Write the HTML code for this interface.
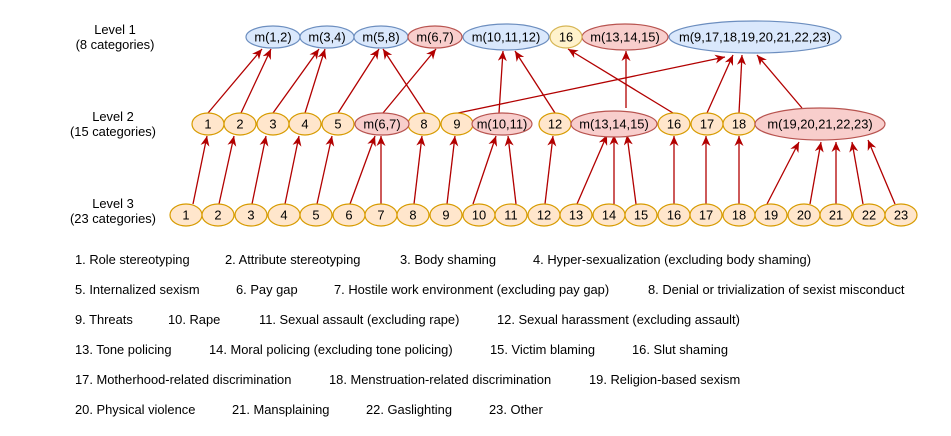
<!DOCTYPE html>
<html><head><meta charset="utf-8"><style>
html,body{margin:0;padding:0;background:#fff;}
svg{display:block;font-family:"Liberation Sans",Arial,sans-serif;}
</style></head><body>
<svg width="951" height="436" viewBox="0 0 951 436" xmlns="http://www.w3.org/2000/svg">
<defs>
<marker id="a" markerUnits="userSpaceOnUse" markerWidth="11" markerHeight="9" refX="10" refY="4.5" orient="auto">
<path d="M0,0 L10,4.5 L0,9 L3,4.5 z" fill="#b20000"/>
</marker>
</defs>
<g font-size="12.9" fill="#000" text-anchor="middle">
<text x="115" y="34">Level 1</text><text x="115" y="49">(8 categories)</text>
<text x="113" y="121">Level 2</text><text x="113" y="136">(15 categories)</text>
<text x="113" y="208">Level 3</text><text x="113" y="223">(23 categories)</text>
</g>
<g stroke="#b20000" stroke-width="1.3" fill="none" marker-end="url(#a)">
<line x1="193" y1="204" x2="207" y2="136"/>
<line x1="219" y1="204" x2="234" y2="136"/>
<line x1="252" y1="204" x2="266" y2="136"/>
<line x1="285" y1="204" x2="299" y2="136"/>
<line x1="317" y1="204" x2="332" y2="136"/>
<line x1="350" y1="204" x2="375" y2="136"/>
<line x1="381" y1="204" x2="381" y2="136"/>
<line x1="414" y1="204" x2="422" y2="136"/>
<line x1="447" y1="204" x2="455" y2="136"/>
<line x1="473" y1="204" x2="496" y2="136"/>
<line x1="516" y1="204" x2="508" y2="136"/>
<line x1="545" y1="204" x2="553" y2="136"/>
<line x1="577" y1="204" x2="607" y2="135"/>
<line x1="614" y1="204" x2="614" y2="135"/>
<line x1="636" y1="204" x2="627" y2="135"/>
<line x1="674" y1="204" x2="674" y2="136"/>
<line x1="706" y1="204" x2="706" y2="136"/>
<line x1="739" y1="204" x2="739" y2="136"/>
<line x1="767" y1="204" x2="799" y2="142"/>
<line x1="810" y1="204" x2="821" y2="142"/>
<line x1="836" y1="204" x2="836" y2="142"/>
<line x1="863" y1="204" x2="852" y2="142"/>
<line x1="895" y1="204" x2="868" y2="140"/>
<line x1="208" y1="113" x2="262" y2="49"/>
<line x1="241" y1="113" x2="271" y2="49"/>
<line x1="273" y1="113" x2="319" y2="49"/>
<line x1="305" y1="113" x2="325" y2="49"/>
<line x1="338" y1="113" x2="379" y2="49"/>
<line x1="425" y1="113" x2="383" y2="49"/>
<line x1="383" y1="113" x2="436" y2="49"/>
<line x1="499" y1="113" x2="503" y2="51"/>
<line x1="555" y1="113" x2="515" y2="51"/>
<line x1="458" y1="113" x2="725" y2="57"/>
<line x1="673" y1="113" x2="568" y2="49"/>
<line x1="626" y1="108" x2="626" y2="51"/>
<line x1="707" y1="113" x2="733" y2="55"/>
<line x1="739" y1="113" x2="742" y2="55"/>
<line x1="802" y1="108" x2="757" y2="55"/>
</g>
<g stroke-width="1.2" font-size="12.9" text-anchor="middle">
<g fill="#dae8fc" stroke="#6c8ebf">
<ellipse cx="273" cy="37" rx="27" ry="11"/>
<ellipse cx="327" cy="37" rx="27" ry="11"/>
<ellipse cx="381" cy="37" rx="27" ry="11"/>
<ellipse cx="506" cy="37" rx="43" ry="13"/>
<ellipse cx="755" cy="37" rx="86" ry="16"/>
</g>
<g fill="#f8cecc" stroke="#b85450">
<ellipse cx="435" cy="37" rx="27" ry="11"/>
<ellipse cx="625" cy="37" rx="43" ry="13"/>
</g>
<ellipse cx="566" cy="37" rx="16" ry="11" fill="#fff2cc" stroke="#d6b656"/>
<g fill="#000" stroke="none">
<text x="273" y="41.5">m(1,2)</text><text x="327" y="41.5">m(3,4)</text><text x="381" y="41.5">m(5,8)</text>
<text x="435" y="41.5">m(6,7)</text><text x="506" y="41.5">m(10,11,12)</text><text x="566" y="41.5">16</text>
<text x="625" y="41.5">m(13,14,15)</text><text x="755" y="41.5">m(9,17,18,19,20,21,22,23)</text>
</g>
<g fill="#ffe6cc" stroke="#d79b00">
<ellipse cx="208" cy="124" rx="16" ry="11"/>
<ellipse cx="240" cy="124" rx="16" ry="11"/>
<ellipse cx="273" cy="124" rx="16" ry="11"/>
<ellipse cx="305" cy="124" rx="16" ry="11"/>
<ellipse cx="338" cy="124" rx="16" ry="11"/>
<ellipse cx="424" cy="124" rx="16" ry="11"/>
<ellipse cx="457" cy="124" rx="16" ry="11"/>
<ellipse cx="555" cy="124" rx="16" ry="11"/>
<ellipse cx="674" cy="124" rx="16" ry="11"/>
<ellipse cx="707" cy="124" rx="16" ry="11"/>
<ellipse cx="739" cy="124" rx="16" ry="11"/>
</g>
<g fill="#f8cecc" stroke="#b85450">
<ellipse cx="382" cy="124" rx="27" ry="11"/>
<ellipse cx="502" cy="124" rx="30" ry="11"/>
<ellipse cx="614" cy="124" rx="43" ry="13"/>
<ellipse cx="820" cy="124" rx="65" ry="16"/>
</g>
<g fill="#000" stroke="none">
<text x="208" y="128.5">1</text><text x="240" y="128.5">2</text><text x="273" y="128.5">3</text>
<text x="305" y="128.5">4</text><text x="338" y="128.5">5</text><text x="382" y="128.5">m(6,7)</text>
<text x="424" y="128.5">8</text><text x="457" y="128.5">9</text><text x="502" y="128.5">m(10,11)</text>
<text x="555" y="128.5">12</text><text x="614" y="128.5">m(13,14,15)</text><text x="674" y="128.5">16</text>
<text x="707" y="128.5">17</text><text x="739" y="128.5">18</text><text x="820" y="128.5">m(19,20,21,22,23)</text>
</g>
<g fill="#ffe6cc" stroke="#d79b00">
<ellipse cx="186" cy="215" rx="16" ry="11"/><ellipse cx="218" cy="215" rx="16" ry="11"/>
<ellipse cx="251" cy="215" rx="16" ry="11"/><ellipse cx="284" cy="215" rx="16" ry="11"/>
<ellipse cx="316" cy="215" rx="16" ry="11"/><ellipse cx="349" cy="215" rx="16" ry="11"/>
<ellipse cx="381" cy="215" rx="16" ry="11"/><ellipse cx="413" cy="215" rx="16" ry="11"/>
<ellipse cx="446" cy="215" rx="16" ry="11"/><ellipse cx="479" cy="215" rx="16" ry="11"/>
<ellipse cx="511" cy="215" rx="16" ry="11"/><ellipse cx="544" cy="215" rx="16" ry="11"/>
<ellipse cx="576" cy="215" rx="16" ry="11"/><ellipse cx="609" cy="215" rx="16" ry="11"/>
<ellipse cx="641" cy="215" rx="16" ry="11"/><ellipse cx="674" cy="215" rx="16" ry="11"/>
<ellipse cx="706" cy="215" rx="16" ry="11"/><ellipse cx="739" cy="215" rx="16" ry="11"/>
<ellipse cx="771" cy="215" rx="16" ry="11"/><ellipse cx="804" cy="215" rx="16" ry="11"/>
<ellipse cx="836" cy="215" rx="16" ry="11"/><ellipse cx="869" cy="215" rx="16" ry="11"/>
<ellipse cx="901" cy="215" rx="16" ry="11"/>
</g>
<g fill="#000" stroke="none">
<text x="186" y="219.5">1</text><text x="218" y="219.5">2</text><text x="251" y="219.5">3</text>
<text x="284" y="219.5">4</text><text x="316" y="219.5">5</text><text x="349" y="219.5">6</text>
<text x="381" y="219.5">7</text><text x="413" y="219.5">8</text><text x="446" y="219.5">9</text>
<text x="479" y="219.5">10</text><text x="511" y="219.5">11</text><text x="544" y="219.5">12</text>
<text x="576" y="219.5">13</text><text x="609" y="219.5">14</text><text x="641" y="219.5">15</text>
<text x="674" y="219.5">16</text><text x="706" y="219.5">17</text><text x="739" y="219.5">18</text>
<text x="771" y="219.5">19</text><text x="804" y="219.5">20</text><text x="836" y="219.5">21</text>
<text x="869" y="219.5">22</text><text x="901" y="219.5">23</text>
</g>
</g>
<g font-size="12.9" fill="#000">
<text x="75" y="264">1. Role stereotyping</text>
<text x="225" y="264">2. Attribute stereotyping</text>
<text x="400" y="264">3. Body shaming</text>
<text x="533" y="264">4. Hyper-sexualization (excluding body shaming)</text>
<text x="75" y="294">5. Internalized sexism</text>
<text x="236" y="294">6. Pay gap</text>
<text x="334" y="294">7. Hostile work environment (excluding pay gap)</text>
<text x="648" y="294">8. Denial or trivialization of sexist misconduct</text>
<text x="75" y="324">9. Threats</text>
<text x="168" y="324">10. Rape</text>
<text x="259" y="324">11. Sexual assault (excluding rape)</text>
<text x="497" y="324">12. Sexual harassment (excluding assault)</text>
<text x="75" y="354">13. Tone policing</text>
<text x="209" y="354">14. Moral policing (excluding tone policing)</text>
<text x="490" y="354">15. Victim blaming</text>
<text x="632" y="354">16. Slut shaming</text>
<text x="75" y="384">17. Motherhood-related discrimination</text>
<text x="329" y="384">18. Menstruation-related discrimination</text>
<text x="589" y="384">19. Religion-based sexism</text>
<text x="75" y="414">20. Physical violence</text>
<text x="232" y="414">21. Mansplaining</text>
<text x="366" y="414">22. Gaslighting</text>
<text x="489" y="414">23. Other</text>
</g>
</svg>
</body></html>
